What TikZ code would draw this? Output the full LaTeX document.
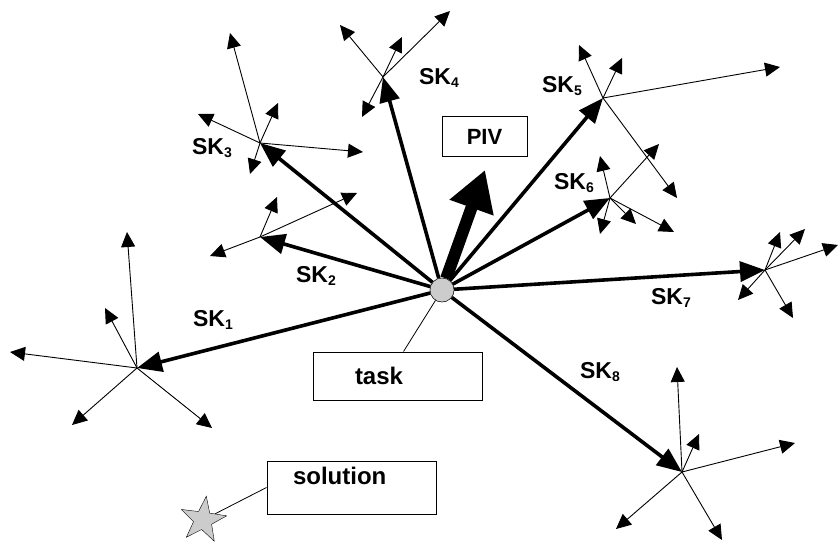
\documentclass[tikz,border=0pt]{standalone}
\usepackage{fontspec}
\setmainfont{Liberation Sans}
\usepackage{xcolor}
\usepackage{tikz}
\usetikzlibrary{positioning,shapes,arrows.meta}
\newcommand{\sklab}[1]{SK\raisebox{-3pt}{\fontsize{14}{14}\selectfont #1}}

\begin{document}
\begin{tikzpicture}[x=1pt, y=-1pt,
					hub/.style = {circle, draw, fill=gray!40, minimum size=24pt, inner sep=0pt},
					box/.style = {rectangle, draw, line width=1pt, font=\fontsize{24}{26}\selectfont\bfseries, align=left},
					lab/.style = {font=\fontsize{23}{26}\selectfont\bfseries, inner sep=0pt},
					leaf/.style = {-{Triangle[length=15pt, width=14pt]}, line width=0.9pt},
					main/.style = {-{Triangle[length=25pt, width=20pt]}, line width=3.6pt},
					piv/.style = {-{Triangle[length=40pt, width=44pt]}, line width=12pt}]
					\useasboundingbox (0,0) rectangle (840,548);

					\node[hub] (hub) at (442, 290) {};
					\node[box, minimum width=85pt, minimum height=40pt, font=\fontsize{22}{24}\selectfont\bfseries, align=center] (pivbox) at (484.5, 137) {PIV};
					\node[box, minimum height=48pt, text width=85pt, inner xsep=42pt] (task) at (397.5, 376) {task};
					\node[box, minimum height=53pt, text width=117pt, inner xsep=26pt, text depth=24pt] (sol) at (351.5, 487.5) {solution};
					\node[star, star points=5, star point ratio=2.5, draw, fill=gray!40, minimum size=48pt, inner sep=0pt, rotate=-8] (star) at (203, 520) {};

					% cluster centres
					\coordinate (k1) at (137, 368);
					\coordinate (k2) at (260, 237);
					\coordinate (k3) at (260, 143);
					\coordinate (k4) at (383, 77);
					\coordinate (k5) at (603, 98);
					\coordinate (k6) at (610, 198);
					\coordinate (k7) at (765, 270);
					\coordinate (k8) at (682, 472);
					\coordinate (pivtip) at (485, 170);

					\node[lab] (sk1) at (213, 320) {\sklab{1}};
					\node[lab] (sk2) at (316, 276) {\sklab{2}};
					\node[lab] (sk3) at (212, 148) {\sklab{3}};
					\node[lab] (sk4) at (439, 78) {\sklab{4}};
					\node[lab] (sk5) at (562, 86) {\sklab{5}};
					\node[lab] (sk6) at (574, 183) {\sklab{6}};
					\node[lab] (sk7) at (671, 298) {\sklab{7}};
					\node[lab] (sk8) at (600, 372) {\sklab{8}};

					% leaf ends
					\coordinate (k1a) at (127, 232);
					\coordinate (k1b) at (105, 308);
					\coordinate (k1c) at (10, 352);
					\coordinate (k1d) at (72, 425);
					\coordinate (k1e) at (212, 428);
					\coordinate (k2a) at (277, 197);
					\coordinate (k2b) at (357, 193);
					\coordinate (k2c) at (210, 256);
					\coordinate (k3a) at (230, 33);
					\coordinate (k3b) at (278, 103);
					\coordinate (k3c) at (198, 114);
					\coordinate (k3d) at (363, 152);
					\coordinate (k3e) at (250, 174);
					\coordinate (k4a) at (340, 25);
					\coordinate (k4b) at (402, 37);
					\coordinate (k4c) at (450, 11);
					\coordinate (k4d) at (362, 117);
					\coordinate (k5a) at (579, 45);
					\coordinate (k5b) at (622, 58);
					\coordinate (k5c) at (780, 67);
					\coordinate (k5d) at (677, 198);
					\coordinate (k6a) at (600, 156);
					\coordinate (k6b) at (659, 144);
					\coordinate (k6c) at (600, 234);
					\coordinate (k6d) at (636, 224);
					\coordinate (k6e) at (674, 232);
					\coordinate (k7a) at (780, 232);
					\coordinate (k7b) at (805, 229);
					\coordinate (k7c) at (838, 245);
					\coordinate (k7d) at (738, 300);
					\coordinate (k7e) at (793, 318);
					\coordinate (k8a) at (677, 367);
					\coordinate (k8b) at (699, 434);
					\coordinate (k8c) at (795, 443);
					\coordinate (k8d) at (616, 529);
					\coordinate (k8e) at (722, 540);

					\draw[leaf] (k1) to (k1a);
					\draw[leaf] (k1) to (k1b);
					\draw[leaf] (k1) to (k1c);
					\draw[leaf] (k1) to (k1d);
					\draw[leaf] (k1) to (k1e);
					\draw[leaf] (k2) to (k2a);
					\draw[leaf] (k2) to (k2b);
					\draw[leaf] (k2) to (k2c);
					\draw[leaf] (k3) to (k3a);
					\draw[leaf] (k3) to (k3b);
					\draw[leaf] (k3) to (k3c);
					\draw[leaf] (k3) to (k3d);
					\draw[leaf] (k3) to (k3e);
					\draw[leaf] (k4) to (k4a);
					\draw[leaf] (k4) to (k4b);
					\draw[leaf] (k4) to (k4c);
					\draw[leaf] (k4) to (k4d);
					\draw[leaf] (k5) to (k5a);
					\draw[leaf] (k5) to (k5b);
					\draw[leaf] (k5) to (k5c);
					\draw[leaf] (k5) to (k5d);
					\draw[leaf] (k6) to (k6a);
					\draw[leaf] (k6) to (k6b);
					\draw[leaf] (k6) to (k6c);
					\draw[leaf] (k6) to (k6d);
					\draw[leaf] (k6) to (k6e);
					\draw[leaf] (k7) to (k7a);
					\draw[leaf] (k7) to (k7b);
					\draw[leaf] (k7) to (k7c);
					\draw[leaf] (k7) to (k7d);
					\draw[leaf] (k7) to (k7e);
					\draw[leaf] (k8) to (k8a);
					\draw[leaf] (k8) to (k8b);
					\draw[leaf] (k8) to (k8c);
					\draw[leaf] (k8) to (k8d);
					\draw[leaf] (k8) to (k8e);

					\draw[main] (hub) to (k1);
					\draw[main] (hub) to (k2);
					\draw[main] (hub) to (k3);
					\draw[main] (hub) to (k4);
					\draw[main] (hub) to (k5);
					\draw[main] (hub) to (k6);
					\draw[main] (hub) to (k7);
					\draw[main] (hub) to (k8);
					\draw[piv] (hub) to (pivtip);

					\draw[line width=0.8pt] (hub) to ([xshift=6pt]task.north);
					\draw[line width=0.8pt] (sol.west) to (star);
					\node[hub] at (hub) {};
				\end{tikzpicture}
\end{document}
